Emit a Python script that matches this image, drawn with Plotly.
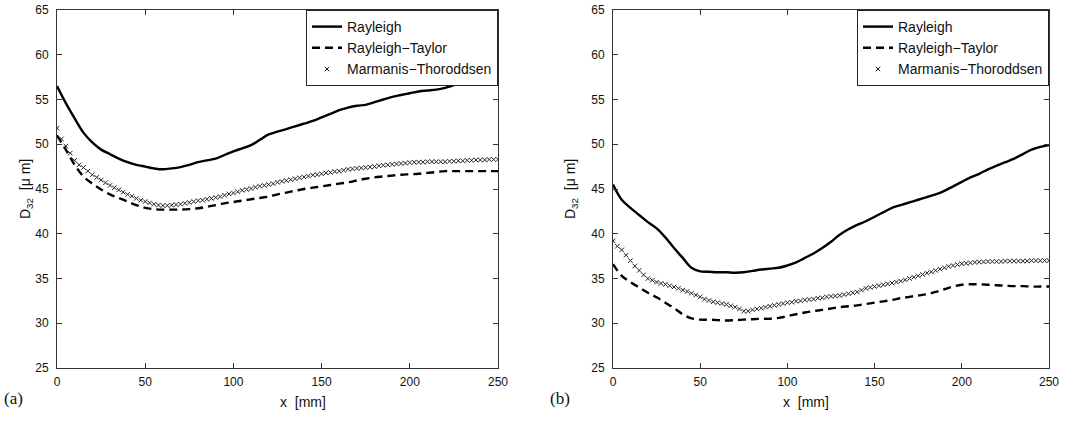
import plotly.graph_objects as go
from plotly.subplots import make_subplots

# ---------------- data ----------------
x_line = [i * 5 for i in range(51)]            # 0..250 mm, lines
x_mark = [i * 2.5 for i in range(101)]         # 0..250 mm, markers

# panel (a)
ray_a = [56.5, 54.6, 52.9, 51.3, 50.2, 49.4, 48.9, 48.4, 48.0, 47.7,
         47.5, 47.3, 47.2, 47.3, 47.45, 47.7, 48.0, 48.2, 48.4, 48.8,
         49.2, 49.55, 49.9, 50.5, 51.1, 51.4, 51.7, 52.0, 52.3, 52.6,
         53.0, 53.4, 53.8, 54.1, 54.3, 54.4, 54.7, 55.0, 55.3, 55.5,
         55.7, 55.9, 56.0, 56.1, 56.3, 56.6, 57.0, 57.3, 57.5, 57.7,
         57.8]
rt_a = [51.0, 49.4, 47.7, 46.4, 45.6, 44.95, 44.4, 44.0, 43.6, 43.2,
        42.9, 42.75, 42.7, 42.7, 42.7, 42.75, 42.85, 43.0, 43.2, 43.4,
        43.55, 43.7, 43.85, 44.0, 44.15, 44.4, 44.6, 44.8, 45.0, 45.15,
        45.3, 45.45, 45.6, 45.75, 45.95, 46.15, 46.3, 46.4, 46.5, 46.6,
        46.65, 46.7, 46.8, 46.9, 47.0, 47.0, 47.0, 47.0, 47.0, 47.0,
        47.0]
mt_a = [51.8, 50.6, 49.8, 49.0, 48.2, 47.7, 47.4, 47.0, 46.6, 46.3,
        46.0, 45.7, 45.4, 45.15, 44.9, 44.65, 44.4, 44.2, 43.95, 43.75,
        43.6, 43.45, 43.3, 43.2, 43.15, 43.15, 43.2, 43.25, 43.3, 43.4,
        43.5, 43.6, 43.7, 43.75, 43.85, 43.95, 44.05, 44.15, 44.3, 44.45,
        44.55, 44.7, 44.85, 44.95, 45.05, 45.2, 45.3, 45.4, 45.5, 45.6,
        45.75, 45.85, 45.95, 46.05, 46.15, 46.25, 46.35, 46.45, 46.55, 46.6,
        46.7, 46.8, 46.85, 46.95, 47.0, 47.1, 47.2, 47.25, 47.3, 47.35,
        47.4, 47.45, 47.5, 47.6, 47.65, 47.7, 47.75, 47.8, 47.85, 47.9,
        47.95, 48.0, 48.0, 48.0, 48.05, 48.05, 48.05, 48.05, 48.05, 48.1,
        48.1, 48.15, 48.15, 48.2, 48.2, 48.25, 48.25, 48.25, 48.3, 48.3,
        48.3]

# panel (b)
ray_b = [45.5, 43.8, 42.9, 42.1, 41.3, 40.6, 39.6, 38.4, 37.3, 36.2,
         35.8, 35.75, 35.7, 35.7, 35.65, 35.7, 35.85, 36.0, 36.1, 36.2,
         36.45, 36.8, 37.3, 37.8, 38.4, 39.1, 39.9, 40.5, 41.0, 41.4,
         41.9, 42.4, 42.9, 43.2, 43.5, 43.8, 44.1, 44.4, 44.8, 45.3,
         45.8, 46.3, 46.7, 47.2, 47.6, 48.0, 48.4, 48.9, 49.4, 49.7,
         49.9]
rt_b = [36.6, 35.3, 34.6, 34.0, 33.4, 32.9, 32.3, 31.7, 31.0, 30.55,
        30.4, 30.4, 30.35, 30.3, 30.35, 30.4, 30.45, 30.5, 30.5, 30.6,
        30.8, 31.0, 31.2, 31.35, 31.5, 31.65, 31.8, 31.9, 32.0, 32.15,
        32.3, 32.45, 32.6, 32.8, 32.95, 33.1, 33.25, 33.5, 33.8, 34.1,
        34.3, 34.35, 34.35, 34.3, 34.25, 34.2, 34.15, 34.15, 34.1, 34.1,
        34.1]
mt_b = [39.2, 38.6, 38.2, 37.6, 37.0, 36.4, 35.9, 35.4, 35.0, 34.8,
        34.6, 34.45, 34.35, 34.2, 34.05, 33.9, 33.7, 33.55, 33.35, 33.15,
        32.95, 32.7, 32.55, 32.4, 32.3, 32.2, 32.1, 31.95, 31.8, 31.6,
        31.35, 31.35, 31.5, 31.6, 31.7, 31.8, 31.9, 32.0, 32.1, 32.2,
        32.3, 32.35, 32.45, 32.5, 32.6, 32.65, 32.7, 32.8, 32.85, 32.95,
        33.0, 33.05, 33.1, 33.2, 33.3, 33.4, 33.5, 33.7, 33.9, 34.0,
        34.1, 34.2, 34.3, 34.4, 34.5, 34.6, 34.7, 34.85, 35.0, 35.15,
        35.3, 35.45, 35.6, 35.75, 35.9, 36.05, 36.2, 36.35, 36.45, 36.55,
        36.65, 36.7, 36.75, 36.8, 36.85, 36.85, 36.9, 36.9, 36.9, 36.9,
        36.95, 36.95, 36.95, 36.95, 36.95, 36.95, 37.0, 37.0, 37.0, 37.0,
        37.0]

x_ticks = [0, 50, 100, 150, 200, 250]
y_ticks = [25, 30, 35, 40, 45, 50, 55, 60, 65]
names = ["Rayleigh", "Rayleigh\u2212Taylor", "Marmanis\u2212Thoroddsen"]
panel_labels = ["(a)", "(b)"]

# ---------------- figure ----------------
W, H = 1086, 426
fig = make_subplots(rows=1, cols=2)

FONT = "Liberation Sans, Arial, Helvetica, sans-serif"
panels = [(ray_a, rt_a, mt_a, "legend"), (ray_b, rt_b, mt_b, "legend2")]
for col, (ray, rt, mt, leg) in enumerate(panels, start=1):
    fig.add_trace(go.Scatter(x=x_line, y=ray, mode="lines", name=names[0],
                             line=dict(color="black", width=2.4, shape="spline"),
                             legend=leg), row=1, col=col)
    fig.add_trace(go.Scatter(x=x_line, y=rt, mode="lines", name=names[1],
                             line=dict(color="black", width=2.4, dash="8px,5px", shape="spline"),
                             legend=leg), row=1, col=col)
    fig.add_trace(go.Scatter(x=x_mark, y=mt, mode="markers", name=names[2],
                             marker=dict(symbol="x-thin", size=4.5, color="#222",
                                         line=dict(color="#222", width=1)),
                             legend=leg), row=1, col=col)

xdom = [[57 / W, 498 / W], [613 / W, 1049 / W]]
ydom = [1 - 368 / H, 1 - 10 / H]

axis_common = dict(showgrid=False, zeroline=False, showline=True, linecolor="#333",
                   linewidth=1, mirror="ticks", ticks="inside", ticklen=5,
                   tickcolor="#333", tickwidth=1, automargin=False,
                   tickfont=dict(family=FONT, size=12, color="#111"))

for i in range(2):
    fig.update_xaxes(range=[0, 250], tickvals=x_ticks, domain=xdom[i],
                     ticklabelstandoff=3, **axis_common, row=1, col=i + 1)
    fig.update_yaxes(range=[25, 65], tickvals=y_ticks, domain=ydom,
                     ticklabelstandoff=5, **axis_common, row=1, col=i + 1)

legend_style = dict(xanchor="right", yanchor="top", bgcolor="white",
                    bordercolor="#222", borderwidth=1,
                    font=dict(family=FONT, size=14, color="#111"),
                    tracegroupgap=0, itemwidth=30)
fig.update_layout(
    width=W, height=H,
    margin=dict(l=0, r=0, t=0, b=0, pad=0, autoexpand=False),
    plot_bgcolor="white", paper_bgcolor="white",
    legend=dict(x=xdom[0][1], y=ydom[1], **legend_style),
    legend2=dict(x=xdom[1][1], y=ydom[1], **legend_style),
)

# axis titles and panel labels
for i in range(2):
    xc = (xdom[i][0] + xdom[i][1]) / 2
    fig.add_annotation(x=xc, y=1 - 412 / H, xref="paper", yref="paper",
                       text="x  [mm]", showarrow=False,
                       font=dict(family=FONT, size=14, color="#111"))
    fig.add_annotation(x=(15 + 556 * i) / W, y=1 - 189 / H, xref="paper", yref="paper",
                       text="D<sub>32</sub>  [\u03bc m]", textangle=-90, showarrow=False,
                       font=dict(family=FONT, size=14, color="#111"))
    fig.add_annotation(x=(2 + 546 * i) / W, y=1 - 410 / H, xref="paper", yref="paper",
                       text=panel_labels[i], showarrow=False, xanchor="left",
                       font=dict(family="Liberation Serif, Times New Roman, serif",
                                 size=17, color="#111"))

fig.write_html("out.html")
